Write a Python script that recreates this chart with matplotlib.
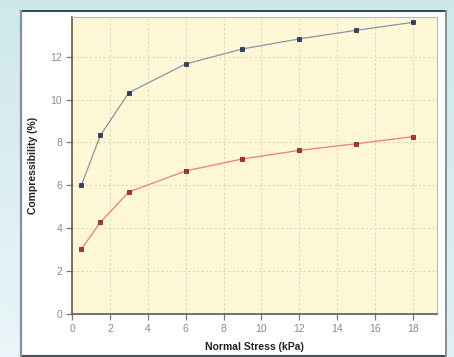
import matplotlib.pyplot as plt
from matplotlib.patches import Rectangle
import numpy as np

plt.rcParams['font.family'] = ['Liberation Sans', 'DejaVu Sans']

# Compressibility vs normal stress for the two test series
stress = [0.5, 1.5, 3, 6, 9, 12, 15, 18]
series_blue = [6.02, 8.33, 10.32, 11.66, 12.36, 12.83, 13.23, 13.6]
series_red = [3.03, 4.28, 5.69, 6.67, 7.23, 7.63, 7.94, 8.27]
x_ticks = [0, 2, 4, 6, 8, 10, 12, 14, 16, 18]
y_ticks = [0, 2, 4, 6, 8, 10, 12]

W, H = 454, 357
fig = plt.figure(figsize=(W / 100, H / 100), dpi=100)

# page background: soft cyan gradient
bg = fig.add_axes([0, 0, 1, 1])
bg.set_axis_off()
yy, xx = np.mgrid[0:1:200j, 0:1:200j]
t = np.clip(0.55 * yy + 0.35 * (1 - xx) * yy, 0, 1)
top = np.array([0.81, 0.91, 0.92])
bottom = np.array([0.93, 0.97, 0.98])
grad = top[None, None, :] * (1 - t[..., None]) + bottom[None, None, :] * t[..., None]
bg.imshow(grad, extent=[0, 1, 0, 1], aspect='auto', origin='upper')
bg.set_xlim(0, 1)
bg.set_ylim(0, 1)

# white chart panel with dark top/bottom edges and grey sides
px0, py0, px1, py1 = 21 / W, 1 - 356 / H, 446 / W, 1 - 11 / H
bg.add_patch(Rectangle((px0, py0), px1 - px0, py1 - py0, facecolor='white',
                       edgecolor='none', zorder=2))
bg.plot([px0, px1], [py1, py1], color='#1e2a36', lw=1.2, zorder=3)
bg.plot([px0, px1], [py0, py0], color='#4a4f55', lw=1.5, zorder=3)
bg.plot([px0, px0], [py0, py1], color='#8a8f93', lw=1.6, zorder=3)
bg.plot([px1, px1], [py0, py1], color='#8a8f93', lw=1.4, zorder=3)

ax = fig.add_axes([72 / W, 1 - 314 / H, (437 - 72) / W, (314 - 17) / H])
ax.set_facecolor('#fff8d6')

ax.plot(stress, series_blue, color='#8a93a8', lw=0.9, marker='s', ms=3.2,
        mfc='#2e3f74', mec='#1c2440', mew=0.5, zorder=3)
ax.plot(stress, series_red, color='#f07a74', lw=0.9, marker='s', ms=3.2,
        mfc='#c8282a', mec='#5a1a1a', mew=0.5, zorder=3)

ax.set_xlim(0, 19.27)
ax.set_ylim(0, 13.85)
ax.set_xticks(x_ticks)
ax.set_yticks(y_ticks)
ax.grid(True, color='#dcd8c2', ls=(0, (2, 2)), lw=0.8)
ax.set_axisbelow(True)

for side in ['top', 'right']:
    ax.spines[side].set_color('#b8b8b8')
    ax.spines[side].set_linewidth(0.8)
for side in ['left', 'bottom']:
    ax.spines[side].set_color('#5a5a5a')
    ax.spines[side].set_linewidth(1.2)

ax.tick_params(axis='both', direction='out', length=4, width=0.9,
               color='#7a7a7a', labelcolor='#8a8a8a', labelsize=7.5, pad=3)

ax.set_xlabel('Normal Stress (kPa)', fontsize=7.5, fontweight='bold',
              color='#222222', labelpad=6)
ax.set_ylabel('Compressibility (%)', fontsize=7.5, fontweight='bold',
              color='#222222', labelpad=9)

fig.savefig('out.png', dpi=100)
